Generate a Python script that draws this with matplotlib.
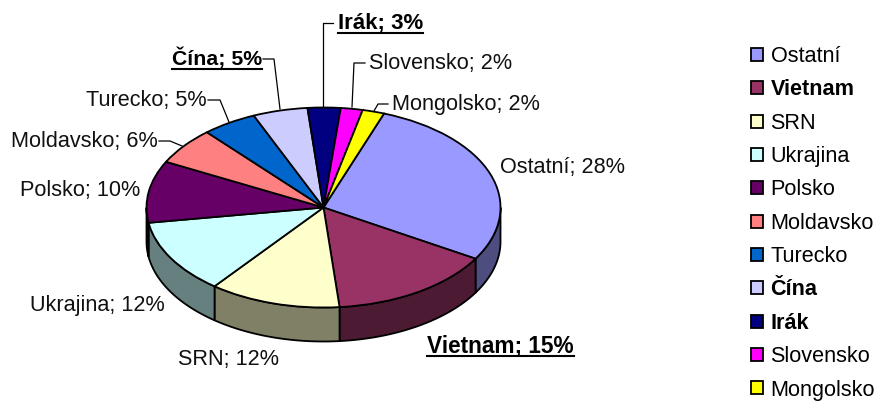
import numpy as np
import matplotlib
matplotlib.use('Agg')
import matplotlib.pyplot as plt
from matplotlib.colors import to_rgb

plt.rcParams['font.family'] = ['Liberation Sans', 'DejaVu Sans']

# pie data
names = ['Ostatní', 'Vietnam', 'SRN', 'Ukrajina', 'Polsko', 'Moldavsko',
         'Turecko', 'Čína', 'Irák', 'Slovensko', 'Mongolsko']
values = [28, 15, 12, 12, 10, 6, 5, 5, 3, 2, 2]
colors = ['#9999FF', '#993366', '#FFFFCC', '#CCFFFF', '#660066', '#FF8080',
          '#0066CC', '#CCCCFF', '#000080', '#FF00FF', '#FFFF00']
bold_names = ['Vietnam', 'Čína', 'Irák']
bold_sizes = {'Vietnam': 16.3, 'Čína': 15.3, 'Irák': 16}

# label placement, pixels: left x, baseline y
label_pos = [(500, 173), (427, 352), (178, 365), (30, 311), (20, 196), (11, 147),
             (86, 106), (172, 65), (338, 29), (369, 69), (392, 110)]
# leader lines, pixels (only for the small slices at the top)
leaders = {
    'Moldavsko': [(182, 146), (170, 141), (159, 141)],
    'Turecko': [(229, 122), (220, 100), (208, 100)],
    'Čína': [(280, 109), (274, 59), (263, 59)],
    'Irák': [(323, 107), (323, 23), (333, 23)],
    'Slovensko': [(352, 107), (354, 63), (365, 63)],
    'Mongolsko': [(374, 111), (378, 104), (388, 104)],
}

W, H = 877, 401
cx, cy, rx, ry = 323.5, 207.5, 177, 100
depth = 0.34
start = 70

fig = plt.figure(figsize=(W / 100, H / 100), dpi=100, facecolor='white')

# pie axes: unit circle squeezed to the ellipse of the top face
ax = fig.add_axes([0, 0, 1, 1])
wedges, _ = ax.pie(values, colors=colors, startangle=start, counterclock=False,
                   radius=1, wedgeprops=dict(edgecolor='black', linewidth=1.3, zorder=3))
ax.set_aspect('auto')
ax.set_xlim(-cx / rx, (W - cx) / rx)
ax.set_ylim((cy - H) / ry, cy / ry)

# side wall, only the front half of the circle can be seen
edges = start - np.cumsum([0] + values) * 3.6
for i in range(len(values)):
    hi, lo = edges[i], edges[i + 1]
    for shift in (0, -360):
        t0 = max(lo + shift, -180)
        t1 = min(hi + shift, 0)
        if t1 <= t0:
            continue
        th = np.radians(np.linspace(t0, t1, 80))
        xs = np.cos(th)
        ys = np.sin(th)
        poly_x = np.concatenate([xs, xs[::-1]])
        poly_y = np.concatenate([ys, ys[::-1] - depth])
        ax.fill(poly_x, poly_y, facecolor=np.array(to_rgb(colors[i])) * 0.5,
                edgecolor='black', linewidth=1.3, zorder=2)

# overlay in pixels for the labels and leader lines
ov = fig.add_axes([0, 0, 1, 1], facecolor='none')
ov.set_xlim(0, W)
ov.set_ylim(H, 0)
ov.axis('off')

fig.canvas.draw()
rend = fig.canvas.get_renderer()
for name, val, (x, y) in zip(names, values, label_pos):
    bold = name in bold_names
    t = ov.text(x, y, f'{name}; {val}%', fontsize=bold_sizes.get(name, 15.6),
                fontweight='bold' if bold else 'normal', color='black' if bold else '#111111',
                ha='left', va='baseline')
    if bold:
        w = t.get_window_extent(rend).width
        ov.plot([x, x + w], [y + 3.5, y + 3.5], color='black', lw=1.5)
    if name in leaders:
        px, py = zip(*leaders[name])
        ov.plot(px, py, color='black', lw=0.9)

leg = ov.legend(wedges, names, loc='upper left', bbox_to_anchor=(751 / W, 1 - 46 / H),
                frameon=False, fontsize=15.6, labelspacing=0.57, handlelength=0.55,
                handleheight=0.55, handletextpad=0.35, borderpad=0, borderaxespad=0)
for txt in leg.get_texts():
    if txt.get_text() in bold_names:
        txt.set_fontweight('bold')

fig.savefig('out.png', dpi=100)
